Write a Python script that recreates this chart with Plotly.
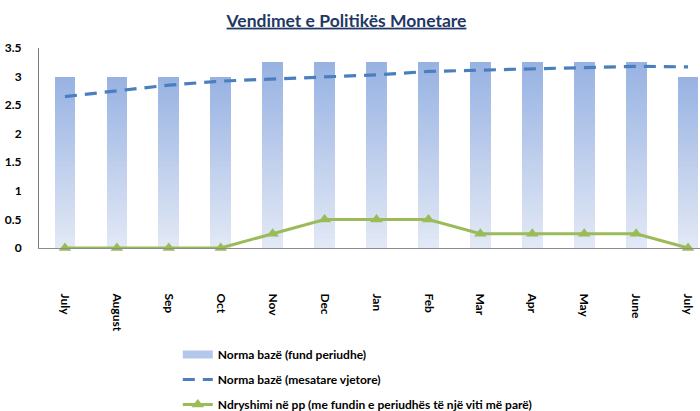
import plotly.graph_objects as go

months = ["July", "August", "Sep", "Oct", "Nov", "Dec", "Jan", "Feb", "Mar", "Apr", "May", "June", "July "]
norma_fund = [3.0, 3.0, 3.0, 3.0, 3.25, 3.25, 3.25, 3.25, 3.25, 3.25, 3.25, 3.25, 3.0]
norma_mes = [2.65, 2.75, 2.85, 2.92, 2.96, 3.0, 3.03, 3.09, 3.11, 3.13, 3.15, 3.18, 3.17]
ndryshimi = [0, 0, 0, 0, 0.25, 0.5, 0.5, 0.5, 0.25, 0.25, 0.25, 0.25, 0]
y_ticks = [0, 0.5, 1, 1.5, 2, 2.5, 3, 3.5]
y_ticktext = ["0", "0.5", "1", "1.5", "2", "2.5", "3", "3.5"]

FONT = "Lato, 'Open Sans', sans-serif"

fig = go.Figure()

# gradient bars drawn as stacked slices of each value
N = 40
top = (0x97, 0xB2, 0xE2)
bot = (0xE3, 0xE9, 0xF6)
for i in range(N):
    t = (i + 0.5) / N
    c = tuple(round(bot[k] + (top[k] - bot[k]) * t) for k in range(3))
    fig.add_trace(go.Bar(
        x=months, y=[v / N for v in norma_fund],
        marker=dict(color="rgb(%d,%d,%d)" % c, line=dict(width=0)),
        width=0.4, showlegend=False, hoverinfo="skip", legendgroup="g1",
    ))

# legend entry for bars (wide band like the reference)
fig.add_trace(go.Scatter(
    x=months, y=[None] * len(months), mode="lines",
    line=dict(color="#B3C7EA", width=8),
    name="Norma bazë (fund periudhe)", showlegend=True, legendgroup="g1",
))

fig.add_trace(go.Scatter(
    x=months, y=norma_mes, mode="lines",
    line=dict(color="#4A7EBF", width=3.2, dash="12px,8px"),
    name="Norma bazë (mesatare vjetore)", legendgroup="g2",
))

fig.add_trace(go.Scatter(
    x=months, y=ndryshimi, mode="lines+markers", cliponaxis=False,
    line=dict(color="#9BBB59", width=3),
    marker=dict(symbol="triangle-up", size=11, color="#9BBB59"),
    name="Ndryshimi në pp (me fundin e periudhës të një viti më parë)", legendgroup="g3",
))

fig.update_layout(
    width=700, height=411,
    barmode="stack", bargap=0.6,
    plot_bgcolor="white", paper_bgcolor="white",
    margin=dict(l=39, r=0, t=48, b=163, autoexpand=False),
    font=dict(family=FONT, size=12, color="black"),
    title=dict(
        text="<b><u>Vendimet e Politikës Monetare</u></b>",
        x=0.495, xref="container", xanchor="center",
        y=0.95, yref="container", yanchor="middle",
        font=dict(family=FONT, size=17.5, color="#1F3864"),
    ),
    xaxis=dict(
        type="category", range=[-0.5, 12.23],
        tickangle=90, showgrid=False, showline=True, linecolor="#8c8c8c", linewidth=1,
        ticks="outside", ticklen=42, tickcolor="rgba(0,0,0,0)",
        tickfont=dict(family=FONT, size=12, color="black", weight="bold"),
    ),
    yaxis=dict(
        range=[0, 3.5], tickvals=y_ticks, ticktext=y_ticktext,
        showgrid=False, zeroline=False, showline=True, linecolor="#7a7a7a", linewidth=1,
        ticks="outside", ticklen=14, tickcolor="rgba(0,0,0,0)",
        tickfont=dict(family=FONT, size=12, color="black", weight="bold"),
    ),
    legend=dict(
        x=0.21, xanchor="left", y=-0.46, yanchor="top",
        orientation="v", traceorder="grouped",
        font=dict(family=FONT, size=12, color="black", weight="bold"),
        itemwidth=30, tracegroupgap=6, bgcolor="rgba(0,0,0,0)",
    ),
)

fig.write_html(
    "out.html",
    config={"displayModeBar": False},
    post_script="document.body.style.margin='0';document.body.style.padding='0';document.body.style.overflow='hidden';",
)
